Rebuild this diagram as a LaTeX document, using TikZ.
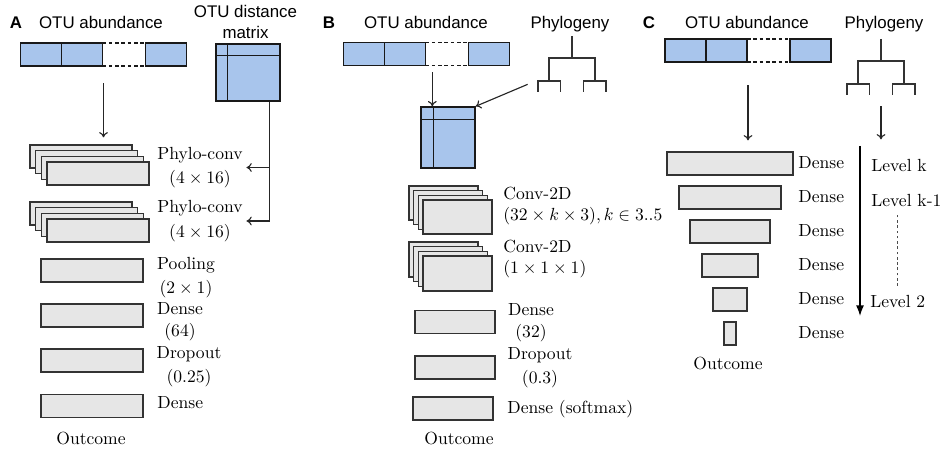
\documentclass[tikz,border=0pt]{standalone}
\usepackage{amsmath,amssymb}
\usepackage{fontspec}
\setsansfont{Liberation Sans}
\usetikzlibrary{positioning,calc,arrows.meta}
\definecolor{otublue}{RGB}{168,197,236}
\definecolor{layergray}{RGB}{230,230,230}
\newcommand{\headfont}{\fontsize{9.6}{11.7}\selectfont\sffamily}

% abundance vector: two cells, a gap, one cell
\newcommand{\otubar}[2]{%
  \begin{scope}[shift={(#2)}]
    \node[inner sep=0pt, minimum width=3.32cm, minimum height=0.46cm] (#1) at (0,0) {};
    \draw[cellline, fill=otublue] (-1.66,-0.23) rectangle (-0.02,0.23);
    \draw[cellline] (-0.84,-0.23) -- (-0.84,0.23);
    \draw[cellline, fill=otublue] (0.84,-0.23) rectangle (1.66,0.23);
    \draw[cellline, dashed, dash pattern=on 2pt off 1.6pt]
      (-0.02,0.23) -- (0.84,0.23) (-0.02,-0.23) -- (0.84,-0.23);
  \end{scope}}
% square matrix with one row and one column marked
\newcommand{\otumatrix}[5]{%
  \node[cellline, fill=otublue, rectangle, inner sep=0pt,
        minimum width=#3, minimum height=#4] (#1) at (#2) {};
  \draw[cellline] ([xshift=#5]#1.north west) -- ([xshift=#5]#1.south west)
                  ([yshift=-#5]#1.north west) -- ([yshift=-#5]#1.north east);}
% small binary tree, #2 = top of the trunk
\newcommand{\phylotree}[2]{%
  \begin{scope}[shift={(#2)}]
    \node[inner sep=0pt, minimum width=1.36cm, minimum height=1.12cm] (#1) at (0,-0.56) {};
    \draw[treeline] (0,0) -- (0,-0.44)
      (-0.46,-0.90) -- (-0.46,-0.44) -- (0.46,-0.44) -- (0.46,-0.90)
      (-0.68,-1.12) -- (-0.68,-0.90) -- (-0.23,-0.90) -- (-0.23,-1.12)
      (0.23,-1.12) -- (0.23,-0.90) -- (0.68,-0.90) -- (0.68,-1.12);
  \end{scope}}
% four stacked feature maps, #1 names the front one
\newcommand{\convstack}[5]{%
  \foreach \k in {3,2,1}
    \node[layer, minimum width=#3, minimum height=#4] at ($(#2)+(-\k*#5,\k*#5)$) {};
  \node[layer, minimum width=#3, minimum height=#4] (#1) at (#2) {};}

\begin{document}
\begin{tikzpicture}[
    >={To[length=3pt,width=5pt]},
    cellline/.style={draw=black!90, line width=0.8pt},
    layer/.style={draw=black!80, fill=layergray, line width=0.7pt,
                  rectangle, inner sep=0pt},
    treeline/.style={black!80, line width=0.75pt},
    head/.style={font=\headfont, anchor=base},
    letter/.style={font=\headfont\bfseries, anchor=base},
    lab/.style={font=\normalsize, align=center, inner sep=2pt},
    conn/.style={->, black!85, line width=0.65pt},
    levarrow/.style={-{Latex[length=6pt,width=4.5pt]}, black, line width=0.75pt},
    dotline/.style={black!70, line width=0.5pt, dashed, dash pattern=on 1.5pt off 1.5pt}
]
\useasboundingbox (0,0) rectangle (18.82,9.00);

% ---------------- A
\node[letter] (letA) at (0.32,8.43) {A};
\node[head]   (otuA) at (2.02,8.43) {OTU abundance};
\node[head, anchor=center, align=center] (distA) at (4.91,8.56) {OTU distance\\matrix};
\otubar{barA}{2.07,7.91}
\otumatrix{matA}{4.96,7.55}{1.28cm}{1.14cm}{0.24cm}

\convstack{pcA1}{1.96,5.53}{2.04cm}{0.46cm}{0.113}
\convstack{pcA2}{1.96,4.39}{2.04cm}{0.46cm}{0.113}
\node[lab] (pcA1-lab) at (4.00,5.65) {Phylo-conv\\[2pt]$(4\times 16)$};
\node[lab] (pcA2-lab) at (4.00,4.58) {Phylo-conv\\[2pt]$(4\times 16)$};

\node[layer, minimum width=2.04cm, minimum height=0.46cm] (poolA) at (1.84,3.59) {};
\node[layer, minimum width=2.04cm, minimum height=0.46cm] (dA1)   at (1.84,2.69) {};
\node[layer, minimum width=2.04cm, minimum height=0.46cm] (dropA) at (1.84,1.79) {};
\node[layer, minimum width=2.04cm, minimum height=0.46cm] (dA2)   at (1.84,0.88) {};
\node[lab] (poolA-lab) at (3.72,3.45) {Pooling\\[2pt]$(2\times 1)$};
\node[lab] (dA1-lab)   at (3.60,2.56) {Dense\\[0.5pt](64)};
\node[lab] (dropA-lab) at (3.78,1.67) {Dropout\\[2pt](0.25)};
\node[lab, anchor=west] (dA2-lab) at (3.07,0.94) {Dense};
\node[lab] (outA) at (1.82,0.24) {Outcome};

\draw[conn] ([yshift=-0.34cm]barA.south) -- ([yshift=0.48cm]barA.south |- pcA1.north);
\coordinate (jA) at ([xshift=-0.22cm]matA.south east);
\draw[conn] (jA) |- (pcA2-lab.east);
\draw[conn] (jA |- pcA1-lab.east) -- (pcA1-lab.east);

% ---------------- B
\node[letter] (letB) at (6.58,8.43) {B};
\node[head]   (otuB) at (8.52,8.43) {OTU abundance};
\node[head]   (phyB) at (11.40,8.43) {Phylogeny};
\otubar{barB}{8.53,7.92}
\phylotree{treeB}{11.44,8.28}
\otumatrix{matB}{8.96,6.25}{1.08cm}{1.22cm}{0.26cm}

\draw[conn] ([xshift=0.24cm,yshift=0.68cm]matB.north west) -- ([xshift=0.24cm]matB.north west);
\coordinate (treeB-out) at ([xshift=-0.2cm,yshift=0.16cm]treeB.south west);
\draw[conn] (treeB-out) -- (matB.north east);

\convstack{convB1}{9.15,4.66}{1.38cm}{0.68cm}{0.093}
\convstack{convB2}{9.15,3.53}{1.38cm}{0.70cm}{0.093}
\node[lab, anchor=west, align=left] (convB1-lab) at (9.99,4.88)
  {Conv-2D\\[-0.6pt]$(32\times k\times 3), k\in 3..5$};
\node[lab, anchor=west, align=left] (convB2-lab) at (9.99,3.82)
  {Conv-2D\\[-0.6pt]$(1\times 1\times 1)$};

\node[layer, minimum width=1.60cm, minimum height=0.46cm] (dB1)   at (9.10,2.56) {};
\node[layer, minimum width=1.60cm, minimum height=0.46cm] (dropB) at (9.10,1.65) {};
\node[layer, minimum width=1.60cm, minimum height=0.46cm] (dB2)   at (9.06,0.83) {};
\node[lab] (dB1-lab)   at (10.62,2.54) {Dense\\[0.5pt](32)};
\node[lab] (dropB-lab) at (10.80,1.65) {Dropout\\[2pt](0.3)};
\node[lab, anchor=west] (dB2-lab) at (10.07,0.82) {Dense (softmax)};
\node[lab] (outB) at (9.18,0.24) {Outcome};

% ---------------- C
\node[letter] (letC) at (12.98,8.43) {C};
\node[head]   (otuC) at (14.94,8.43) {OTU abundance};
\node[head]   (phyC) at (17.68,8.43) {Phylogeny};
\otubar{barC}{14.96,7.99}
\phylotree{treeC}{17.62,8.22}

\foreach \w [count=\i] in {2.52,2.04,1.60,1.12,0.68,0.24} {
  \node[layer, minimum width=\w cm, minimum height=0.46cm] (dC\i) at (14.60,6.41-0.68*\i) {};
  \node[lab, anchor=west] (dC\i-lab) at (15.89,6.43-0.68*\i) {Dense};
}
\node[lab] (outC) at (14.56,1.74) {Outcome};

\draw[conn] ([yshift=-0.46cm]barC.south) -- ([yshift=0.22cm]barC.south |- dC1.north);
\draw[conn] ([yshift=-0.22cm]treeC.south) -- ([yshift=0.24cm]treeC.south |- dC1.north);

\coordinate (levtop) at (17.20,6.08);
\coordinate (levbot) at (17.20,2.68);
\draw[levarrow] (levtop) -- (levbot);
\node[lab, anchor=west] (levk)  at (17.35,5.70) {Level k};
\node[lab, anchor=west] (levk1) at (17.35,5.00) {Level k-1};
\node[lab, anchor=west] (lev2)  at (17.33,2.98) {Level 2};
\draw[dotline] ([yshift=0.1cm]lev2.north) -- ([yshift=-0.06cm]lev2.north |- levk1.south);

\end{tikzpicture}
\end{document}
